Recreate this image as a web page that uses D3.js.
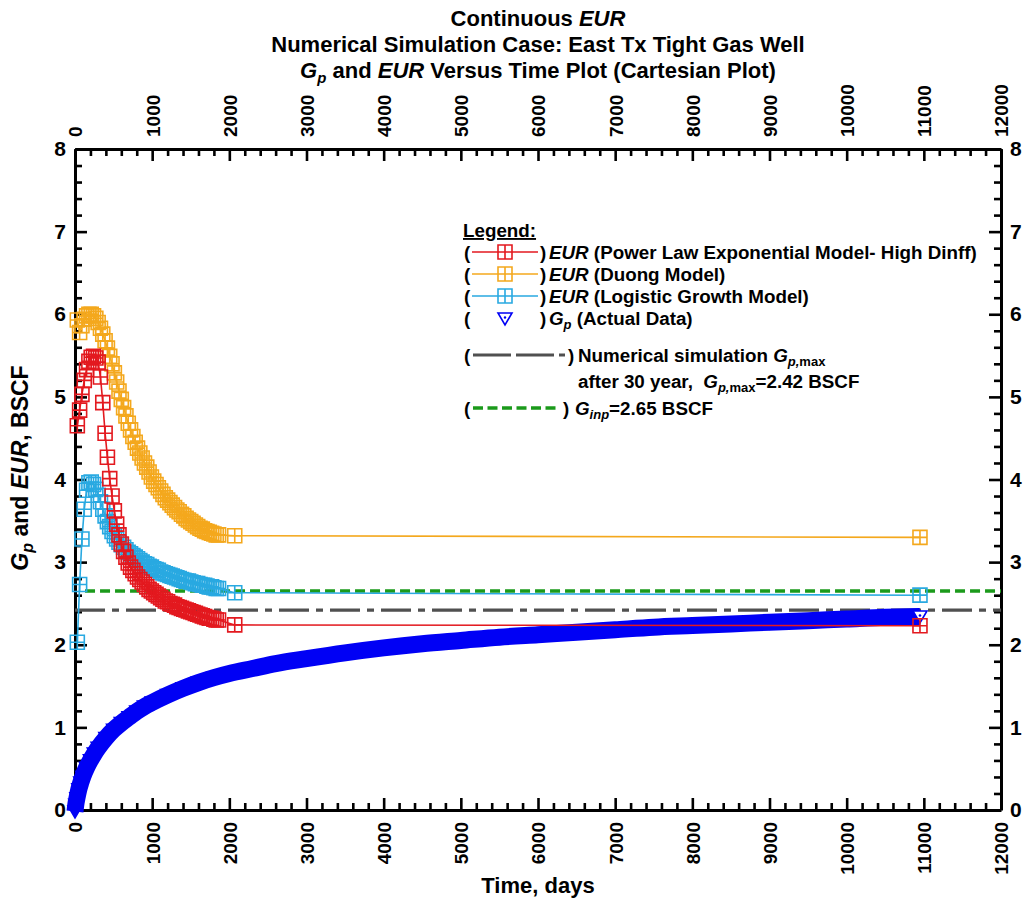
<!DOCTYPE html>
<html>
<head>
<meta charset="utf-8">
<script src="https://cdn.jsdelivr.net/npm/d3@7"></script>
<style>
  body { margin: 0; background: #fff; }
  svg text { font-family: "Liberation Sans", Arial, Helvetica, sans-serif; font-weight: bold; fill: #000; white-space: pre; }
</style>
</head>
<body>
<svg id="chart" width="1025" height="905"></svg>
<script>
// ---- data -------------------------------------------------------------
// EUR evaluation times, days
const days = [
  30, 60, 90, 120, 150, 180, 210, 240, 270, 300,
  330, 360, 390, 420, 450, 480, 510, 540, 570, 600,
  630, 660, 690, 720, 750, 780, 810, 840, 870, 900,
  930, 960, 990, 1020, 1050, 1080, 1110, 1140, 1170, 1200,
  1230, 1260, 1290, 1320, 1350, 1380, 1410, 1440, 1470, 1500,
  1530, 1560, 1590, 1620, 1650, 1680, 1710, 1740, 1770, 1800,
  1830, 1860, 2070, 10950
];
// EUR, Power Law Exponential model (high Dinf), BSCF
const eurPLE = [
  4.65, 4.84, 5.03, 5.20, 5.33, 5.43, 5.48, 5.49, 5.47, 5.42,
  5.24, 4.93, 4.56, 4.27, 4.01, 3.80, 3.62, 3.46, 3.33, 3.22,
  3.13, 3.06, 2.99, 2.94, 2.90, 2.86, 2.82, 2.79, 2.76, 2.73,
  2.70, 2.67, 2.65, 2.63, 2.61, 2.59, 2.57, 2.55, 2.53, 2.52,
  2.50, 2.49, 2.48, 2.46, 2.45, 2.44, 2.43, 2.42, 2.41, 2.40,
  2.39, 2.38, 2.37, 2.36, 2.35, 2.34, 2.33, 2.32, 2.32, 2.31,
  2.30, 2.30, 2.24, 2.23
];
// EUR, Duong model, BSCF
const eurDuong = [
  5.93, 5.78, 5.86, 5.94, 5.98, 6.00, 6.00, 5.98, 5.95, 5.90,
  5.83, 5.76, 5.68, 5.59, 5.49, 5.40, 5.29, 5.18, 5.07, 4.97,
  4.87, 4.77, 4.68, 4.60, 4.52, 4.45, 4.38, 4.32, 4.26, 4.20,
  4.15, 4.09, 4.03, 3.98, 3.94, 3.90, 3.86, 3.82, 3.78, 3.75,
  3.72, 3.69, 3.66, 3.63, 3.61, 3.58, 3.56, 3.53, 3.51, 3.49,
  3.47, 3.45, 3.43, 3.41, 3.40, 3.38, 3.37, 3.36, 3.35, 3.34,
  3.33, 3.33, 3.32, 3.30
];
// EUR, Logistic Growth model, BSCF
const eurLGM = [
  2.03, 2.73, 3.28, 3.64, 3.87, 3.96, 3.97, 3.94, 3.88, 3.81,
  3.73, 3.64, 3.56, 3.49, 3.43, 3.37, 3.32, 3.28, 3.24, 3.21,
  3.18, 3.15, 3.12, 3.10, 3.08, 3.06, 3.04, 3.02, 3.00, 2.98,
  2.97, 2.95, 2.94, 2.92, 2.91, 2.90, 2.88, 2.87, 2.86, 2.85,
  2.84, 2.83, 2.82, 2.81, 2.80, 2.79, 2.78, 2.77, 2.77, 2.76,
  2.75, 2.74, 2.74, 2.73, 2.72, 2.72, 2.71, 2.70, 2.70, 2.69,
  2.68, 2.68, 2.63, 2.60
];
// cumulative production, actual data
const gpDays = [
  0, 10, 25, 50, 75, 100, 150, 200, 250, 300,
  400, 500, 600, 700, 800, 900, 1000, 1200, 1400, 1600,
  1800, 2000, 2300, 2600, 3000, 3500, 4000, 4500, 5000, 5500,
  6000, 6500, 7000, 7500, 8000, 8500, 9000, 9500, 10000, 10500, 10950
];
const gpActual = [
  0.00, 0.08, 0.16, 0.27, 0.35, 0.42, 0.53, 0.62, 0.70, 0.77,
  0.89, 0.99, 1.07, 1.14, 1.21, 1.27, 1.32, 1.41, 1.49, 1.56,
  1.62, 1.67, 1.73, 1.79, 1.85, 1.92, 1.98, 2.03, 2.07, 2.11,
  2.14, 2.17, 2.20, 2.23, 2.25, 2.27, 2.29, 2.31, 2.33, 2.35, 2.36
];
// reference levels
const gpMaxDays = [0, 12000];
const gpMaxValue = 2.42;      // numerical simulation Gp,max after 30 years
const gInpDays = [130, 12000];
const gInpValue = 2.65;       // gas initially in place

const xMajorTicks = [0, 1000, 2000, 3000, 4000, 5000, 6000, 7000, 8000, 9000, 10000, 11000, 12000];
const yMajorTicks = [0, 1, 2, 3, 4, 5, 6, 7, 8];

// ---- layout -------------------------------------------------------------
const svg = d3.select("#chart");
const x = d3.scaleLinear().domain([0, 12000]).range([75, 1001]);
const y = d3.scaleLinear().domain([0, 8]).range([810, 149]);

const xMinor = d3.range(0, 12001, 200).filter(v => v % 1000 !== 0);
const yMinor = d3.range(0, 8.001, 0.2).map(v => +v.toFixed(1)).filter(v => Math.abs(v - Math.round(v)) > 1e-6);

const colors = { ple: "#e3191f", duong: "#f4a81d", lgm: "#29a9e1", gp: "#0000f5", gpmax: "#505050", ginp: "#1b9a1b" };
const fmt = d3.format("d");

// ---- axes ---------------------------------------------------------------
function styleAxis(g) {
  g.select(".domain").attr("stroke", "#000").attr("stroke-width", 3);
  g.selectAll(".tick line").attr("stroke", "#000").attr("stroke-width", 2.6);
}
const majorLen = 12, minorLen = 7;

// bottom
const gB = svg.append("g").attr("transform", `translate(0,${y(0)})`)
  .call(d3.axisBottom(x).tickValues(xMajorTicks).tickFormat(fmt).tickSize(-majorLen).tickSizeOuter(0));
gB.selectAll(".tick text").attr("transform", "rotate(-90)").attr("x", -12).attr("y", 0)
  .attr("dy", "0.36em").attr("text-anchor", "end").style("font-size", "19px");
svg.append("g").attr("transform", `translate(0,${y(0)})`)
  .call(d3.axisBottom(x).tickValues(xMinor).tickSize(-minorLen).tickFormat("").tickSizeOuter(0))
  .call(g => g.select(".domain").remove()).call(styleAxis);
styleAxis(gB);

// top
const gT = svg.append("g").attr("transform", `translate(0,${y(8)})`)
  .call(d3.axisTop(x).tickValues(xMajorTicks).tickFormat(fmt).tickSize(-majorLen).tickSizeOuter(0));
gT.selectAll(".tick text").attr("transform", "rotate(-90)").attr("x", 12).attr("y", 0)
  .attr("dy", "0.36em").attr("text-anchor", "start").style("font-size", "19px");
svg.append("g").attr("transform", `translate(0,${y(8)})`)
  .call(d3.axisTop(x).tickValues(xMinor).tickSize(-minorLen).tickFormat("").tickSizeOuter(0))
  .call(g => g.select(".domain").remove()).call(styleAxis);
styleAxis(gT);

// left
const gL = svg.append("g").attr("transform", `translate(${x(0)},0)`)
  .call(d3.axisLeft(y).tickValues(yMajorTicks).tickFormat(fmt).tickSize(-majorLen).tickPadding(9).tickSizeOuter(0));
gL.selectAll(".tick text").style("font-size", "21px");
svg.append("g").attr("transform", `translate(${x(0)},0)`)
  .call(d3.axisLeft(y).tickValues(yMinor).tickSize(-minorLen).tickFormat("").tickSizeOuter(0))
  .call(g => g.select(".domain").remove()).call(styleAxis);
styleAxis(gL);

// right
const gR = svg.append("g").attr("transform", `translate(${x(12000)},0)`)
  .call(d3.axisRight(y).tickValues(yMajorTicks).tickFormat(fmt).tickSize(-majorLen).tickPadding(9).tickSizeOuter(0));
gR.selectAll(".tick text").style("font-size", "21px");
svg.append("g").attr("transform", `translate(${x(12000)},0)`)
  .call(d3.axisRight(y).tickValues(yMinor).tickSize(-minorLen).tickFormat("").tickSizeOuter(0))
  .call(g => g.select(".domain").remove()).call(styleAxis);
styleAxis(gR);

// ---- titles -------------------------------------------------------------
const cx = (x(0) + x(12000)) / 2;
const t1 = svg.append("text").attr("x", cx).attr("y", 26).attr("text-anchor", "middle").style("font-size", "22px");
t1.append("tspan").text("Continuous ");
t1.append("tspan").style("font-style", "italic").text("EUR");
svg.append("text").attr("x", cx).attr("y", 52).attr("text-anchor", "middle").style("font-size", "22px")
  .text("Numerical Simulation Case: East Tx Tight Gas Well");
const t3 = svg.append("text").attr("x", cx).attr("y", 78).attr("text-anchor", "middle").style("font-size", "22px");
t3.append("tspan").style("font-style", "italic").text("G");
t3.append("tspan").style("font-style", "italic").style("font-size", "15px").attr("dy", 5).text("p");
t3.append("tspan").attr("dy", -5).text(" and ");
t3.append("tspan").style("font-style", "italic").text("EUR");
t3.append("tspan").text(" Versus Time Plot (Cartesian Plot)");

svg.append("text").attr("x", cx).attr("y", 893).attr("text-anchor", "middle").style("font-size", "22px")
  .text("Time, days");

const yl = svg.append("text").attr("transform", `translate(28,468) rotate(-90)`)
  .attr("text-anchor", "middle").style("font-size", "23px");
yl.append("tspan").style("font-style", "italic").text("G");
yl.append("tspan").style("font-style", "italic").style("font-size", "16px").attr("dy", 5).text("p");
yl.append("tspan").attr("dy", -5).text(" and ");
yl.append("tspan").style("font-style", "italic").text("EUR");
yl.append("tspan").text(", BSCF");

// ---- marker shapes ------------------------------------------------------
const sq = 7;
const squarePath = `M${-sq},${-sq}H${sq}V${sq}H${-sq}Z M0,${-sq}V${sq} M${-sq},0H${sq}`;
const triPath = "M-7,-4H7L0,8Z";

// ---- reference lines ----------------------------------------------------
svg.append("path").attr("d", d3.line().x(d => x(d)).y(() => y(gpMaxValue))(gpMaxDays))
  .attr("fill", "none").attr("stroke", colors.gpmax).attr("stroke-width", 3.2)
  .attr("stroke-dasharray", "30,7,7,7");
svg.append("path").attr("d", d3.line().x(d => x(d)).y(() => y(gInpValue))(gInpDays))
  .attr("fill", "none").attr("stroke", colors.ginp).attr("stroke-width", 3.6)
  .attr("stroke-dasharray", "10,5");

// ---- actual Gp band -----------------------------------------------------
const gpPts = gpDays.map((d, i) => [d, gpActual[i]]);
svg.append("path").attr("d", d3.line().x(d => x(d[0])).y(d => y(d[1]) + 1.5).curve(d3.curveMonotoneX)(gpPts))
  .attr("fill", "none").attr("stroke", colors.gp).attr("stroke-width", 17);
svg.append("g").selectAll("path").data(gpPts).join("path")
  .attr("transform", d => `translate(${x(d[0])},${y(d[1])})`)
  .attr("d", triPath)
  .attr("fill", (d, i) => i === gpPts.length - 1 ? "#fff" : colors.gp)
  .attr("stroke", colors.gp).attr("stroke-width", 1.6);
const last = gpPts[gpPts.length - 1];
svg.append("circle").attr("cx", x(last[0])).attr("cy", y(last[1]) + 0.5).attr("r", 1.3).attr("fill", colors.gp);

// ---- EUR series ---------------------------------------------------------
const series = [
  { key: "duong", values: eurDuong },
  { key: "lgm", values: eurLGM },
  { key: "ple", values: eurPLE }
];
const line = d3.line().x(d => x(d[0])).y(d => y(d[1]));
series.forEach(s => {
  const pts = days.map((d, i) => [d, s.values[i]]);
  const g = svg.append("g");
  g.append("path").attr("d", line(pts)).attr("fill", "none")
    .attr("stroke", colors[s.key]).attr("stroke-width", 1.6);
  g.selectAll(".m").data(pts).join("path").attr("class", "m")
    .attr("transform", d => `translate(${x(d[0])},${y(d[1])})`)
    .attr("d", squarePath).attr("fill", "none")
    .attr("stroke", colors[s.key]).attr("stroke-width", 1.6);
});

// ---- legend -------------------------------------------------------------
const lg = svg.append("g");
const fs = "18.8px", sub = "13px";
lg.append("text").attr("x", 463).attr("y", 237).style("font-size", fs).text("Legend:")
  .attr("text-decoration", "underline");

const rows = [
  { y: 252, key: "ple", label: " (Power Law Exponential Model- High Dinff)" },
  { y: 274, key: "duong", label: " (Duong Model)" },
  { y: 296, key: "lgm", label: " (Logistic Growth Model)" }
];
function paren(yc, xr) {
  lg.append("text").attr("x", 464).attr("y", yc).attr("dy", "0.36em").style("font-size", fs).text("(");
  lg.append("text").attr("x", xr).attr("y", yc).attr("dy", "0.36em").style("font-size", fs).text(")");
}
rows.forEach(r => {
  paren(r.y, 540);
  lg.append("line").attr("x1", 472).attr("x2", 538).attr("y1", r.y).attr("y2", r.y)
    .attr("stroke", colors[r.key]).attr("stroke-width", 1.6);
  lg.append("path").attr("transform", `translate(505,${r.y})`).attr("d", squarePath)
    .attr("fill", "#fff").attr("stroke", colors[r.key]).attr("stroke-width", 1.6);
  const t = lg.append("text").attr("x", 549).attr("y", r.y).attr("dy", "0.36em").style("font-size", fs);
  t.append("tspan").style("font-style", "italic").text("EUR");
  t.append("tspan").text(r.label);
});
// actual data row
paren(318, 540);
lg.append("path").attr("transform", "translate(505,317)").attr("d", triPath)
  .attr("fill", "#fff").attr("stroke", colors.gp).attr("stroke-width", 1.6);
lg.append("circle").attr("cx", 505).attr("cy", 317.5).attr("r", 1.2).attr("fill", colors.gp);
const t4 = lg.append("text").attr("x", 549).attr("y", 318).attr("dy", "0.36em").style("font-size", fs);
t4.append("tspan").style("font-style", "italic").text("G");
t4.append("tspan").style("font-style", "italic").style("font-size", sub).attr("dy", 4).text("p");
t4.append("tspan").attr("dy", -4).text(" (Actual Data)");

// simulation Gp,max row
paren(355, 568);
lg.append("line").attr("x1", 473).attr("x2", 566).attr("y1", 355).attr("y2", 355)
  .attr("stroke", colors.gpmax).attr("stroke-width", 3.2).attr("stroke-dasharray", "38,5,38,5,6,10");
const t5 = lg.append("text").attr("x", 578).attr("y", 355).attr("dy", "0.36em").style("font-size", fs);
t5.append("tspan").text("Numerical simulation ");
t5.append("tspan").style("font-style", "italic").text("G");
t5.append("tspan").style("font-style", "italic").style("font-size", sub).attr("dy", 4).text("p,");
t5.append("tspan").style("font-size", sub).text("max");
const t6 = lg.append("text").attr("x", 578).attr("y", 381).attr("dy", "0.36em").style("font-size", fs);
t6.append("tspan").text("after 30 year,  ");
t6.append("tspan").style("font-style", "italic").text("G");
t6.append("tspan").style("font-style", "italic").style("font-size", sub).attr("dy", 4).text("p,");
t6.append("tspan").style("font-size", sub).text("max");
t6.append("tspan").attr("dy", -4).text("=2.42 BSCF");

// Ginp row
paren(408, 563);
lg.append("line").attr("x1", 473).attr("x2", 560).attr("y1", 408).attr("y2", 408)
  .attr("stroke", colors.ginp).attr("stroke-width", 3.6).attr("stroke-dasharray", "10,4.5");
const t7 = lg.append("text").attr("x", 575).attr("y", 408).attr("dy", "0.36em").style("font-size", fs);
t7.append("tspan").style("font-style", "italic").text("G");
t7.append("tspan").style("font-style", "italic").style("font-size", sub).attr("dy", 4).text("inp");
t7.append("tspan").attr("dy", -4).text("=2.65 BSCF");
</script>
</body>
</html>
